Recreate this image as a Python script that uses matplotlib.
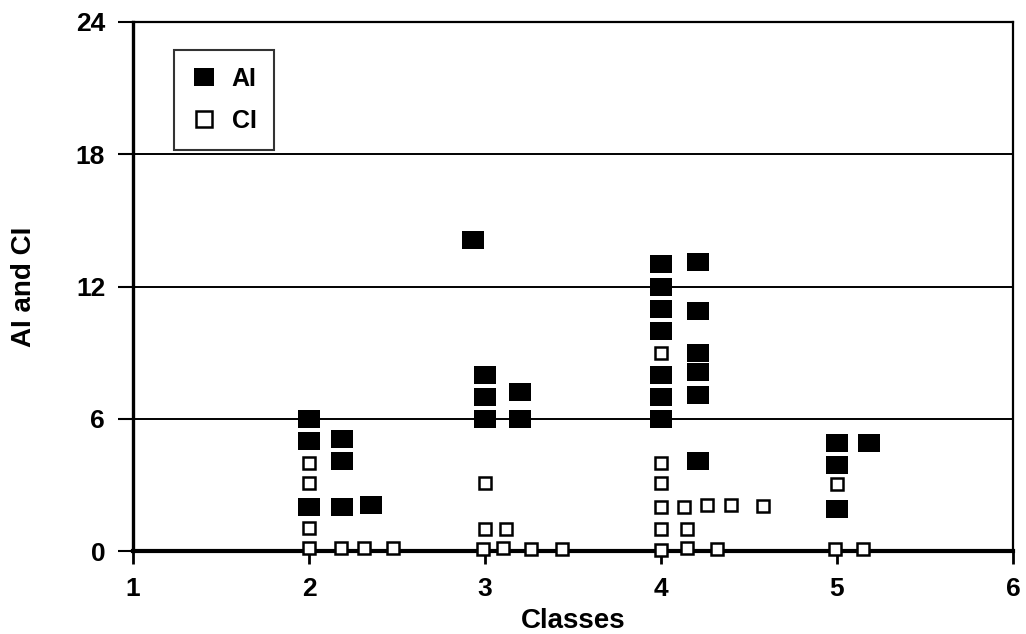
import matplotlib
matplotlib.use("Agg")
import matplotlib.pyplot as plt

# --- dados ---
ai_x = [2.0, 2.0, 2.0, 2.19, 2.19, 2.19, 2.35,
        2.93, 3.0, 3.0, 3.0, 3.2, 3.2,
        4.0, 4.0, 4.0, 4.0, 4.0, 4.0, 4.0, 4.21, 4.21, 4.21, 4.21, 4.21, 4.21,
        5.0, 5.0, 5.0, 5.18]
ai_y = [6, 5, 2, 5.1, 4.1, 2, 2.1,
        14.1, 8, 7, 6, 7.2, 6,
        13, 12, 11, 10, 8, 7, 6, 13.1, 10.9, 9, 8.1, 7.1, 4.1,
        4.9, 3.9, 1.9, 4.9]

ci_x = [2.0, 2.0, 2.0, 2.0, 2.18, 2.31, 2.48,
        3.0, 3.0, 3.12, 2.99, 3.10, 3.26, 3.44,
        4.0, 4.0, 4.0, 4.0, 4.13, 4.26, 4.40, 4.58, 4.0, 4.15, 4.0, 4.15, 4.32,
        5.0, 4.99, 5.15]
ci_y = [4.0, 3.1, 1.05, 0.15, 0.15, 0.15, 0.15,
        3.1, 1.0, 1.0, 0.1, 0.15, 0.1, 0.1,
        9.0, 4.0, 3.1, 2.0, 2.0, 2.1, 2.1, 2.05, 1.0, 1.0, 0.05, 0.15, 0.1,
        3.05, 0.1, 0.1]

x_ticks = [1, 2, 3, 4, 5, 6]
y_ticks = [0, 6, 12, 18, 24]

plt.rcParams['font.family'] = ['Liberation Sans', 'DejaVu Sans']
plt.rcParams['font.weight'] = 'bold'

# quadrado um pouco mais largo que alto, como no original
ret = [(-1.18, -1), (1.18, -1), (1.18, 1), (-1.18, 1), (-1.18, -1)]

fig = plt.figure(figsize=(10.26, 6.34), dpi=100)
ax = fig.add_axes([0.1296, 0.1309, 0.8577, 0.8344])

for y in [6, 12, 18]:
    ax.axhline(y, color='black', lw=1.4, zorder=1)

ax.plot(ai_x, ai_y, marker=ret, ms=15.5, color='black', mew=0,
        label='AI', linestyle='none', zorder=3, clip_on=False)
ax.plot(ci_x, ci_y, 's', ms=8.5, mfc='white', mec='black', mew=1.8, label='CI',
        linestyle='none', zorder=4, clip_on=False)

ax.set_xlim(1, 6)
ax.set_ylim(0, 24)
ax.set_xticks(x_ticks)
ax.set_yticks(y_ticks)

for s in ['left', 'right', 'top']:
    ax.spines[s].set_linewidth(1.6)
ax.spines['left'].set_linewidth(2.4)
ax.spines['bottom'].set_linewidth(3)

ax.tick_params(axis='y', direction='out', length=11, width=1.5,
               labelsize=19, pad=9)
ax.tick_params(axis='x', direction='out', length=9, width=2,
               labelsize=19, pad=10)
for lab in ax.get_xticklabels() + ax.get_yticklabels():
    lab.set_fontweight('bold')

ax.set_xlabel('Classes', fontsize=20, fontweight='bold', labelpad=5)
ax.set_ylabel('AI and CI', fontsize=20, fontweight='bold', labelpad=28)

leg = ax.legend(loc='upper left', bbox_to_anchor=(0.047, 0.948),
                fancybox=False, frameon=True, edgecolor='black',
                prop={'weight': 'bold', 'size': 18}, borderpad=0.7,
                handletextpad=0.6, labelspacing=0.7, handlelength=1.0,
                borderaxespad=0)
leg.get_frame().set_linewidth(1.5)
leg.legend_handles[0].set_markersize(15)
leg.legend_handles[1].set_markersize(11)

fig.savefig('out.png', dpi=100)
